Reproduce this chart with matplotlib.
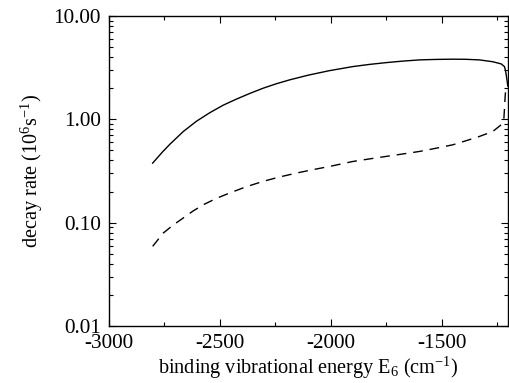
import matplotlib
matplotlib.use("Agg")
import matplotlib.pyplot as plt
from matplotlib.ticker import FixedLocator, FixedFormatter, LogLocator, NullFormatter, MultipleLocator

plt.rcParams['font.family'] = ['Liberation Serif', 'DejaVu Serif']
plt.rcParams['mathtext.fontset'] = 'custom'
plt.rcParams['mathtext.rm'] = 'Liberation Serif'
plt.rcParams['mathtext.it'] = 'Liberation Serif'

# data
energy_solid = [-2803, -2760, -2725, -2665, -2605, -2545, -2485, -2425, -2365, -2305,
                -2245, -2185, -2100, -2005, -1900, -1825, -1749, -1675, -1599, -1525,
                -1449, -1390, -1329, -1269, -1231, -1216, -1212, -1208, -1204, -1201]
rate_solid = [0.377, 0.48, 0.575, 0.762, 0.96, 1.16, 1.37, 1.57, 1.78, 2.00,
              2.21, 2.41, 2.68, 2.96, 3.24, 3.40, 3.54, 3.66, 3.76, 3.80,
              3.82, 3.81, 3.76, 3.61, 3.44, 3.24, 3.0, 2.7, 2.35, 2.1]

energy_dashed = [-2803, -2755, -2710, -2665, -2620, -2575, -2515, -2455, -2380, -2305,
                 -2230, -2154, -2080, -2005, -1900, -1825, -1749, -1675, -1599, -1525,
                 -1449, -1390, -1329, -1269, -1231, -1219, -1216, -1213, -1210]
rate_dashed = [0.059, 0.0794, 0.095, 0.111, 0.130, 0.149, 0.172, 0.194, 0.223, 0.251,
               0.277, 0.302, 0.326, 0.350, 0.391, 0.414, 0.438, 0.462, 0.489, 0.525,
               0.567, 0.62, 0.683, 0.762, 0.885, 0.99, 1.25, 1.65, 2.0]

xticks = [-3000, -2500, -2000, -1500]
xticklabels = ['-3000', '-2500', '-2000', '-1500']
yticks = [0.01, 0.1, 1.0, 10.0]
yticklabels = ['0.01', '0.10', '1.00', '10.00']

fig = plt.figure(figsize=(5.09, 3.83), dpi=100)
ax = fig.add_axes([109/509, 1 - 326/383, (508-109)/509, (326-16)/383])

ax.plot(energy_solid, rate_solid, color='black', lw=1.0)
ax.plot(energy_dashed, rate_dashed, color='black', lw=1.0, dashes=(7, 5))

ax.set_yscale('log')
ax.set_xlim(-3000, -1200)
ax.set_ylim(0.01, 10)

ax.xaxis.set_major_locator(FixedLocator(xticks))
ax.xaxis.set_major_formatter(FixedFormatter(xticklabels))
ax.xaxis.set_minor_locator(MultipleLocator(250))
ax.yaxis.set_major_locator(FixedLocator(yticks))
ax.yaxis.set_major_formatter(FixedFormatter(yticklabels))
ax.yaxis.set_minor_locator(LogLocator(base=10, subs=range(2, 10)))
ax.yaxis.set_minor_formatter(NullFormatter())

ax.tick_params(which='both', direction='in', top=True, right=True, width=0.8, labelsize=15.3)
ax.tick_params(which='major', length=5, pad=6)
ax.tick_params(which='minor', length=3)
for s in ax.spines.values():
    s.set_linewidth(1.0)

ax.set_xlabel(r'binding vibrational energy E$_6$ (cm$^{\mathrm{-1}}$)', fontsize=14.6, labelpad=1)
ax.set_ylabel(r'decay rate (10$^6$s$^{\mathrm{-1}}$)', fontsize=14.6, labelpad=6)

fig.savefig('out.png', dpi=100)
